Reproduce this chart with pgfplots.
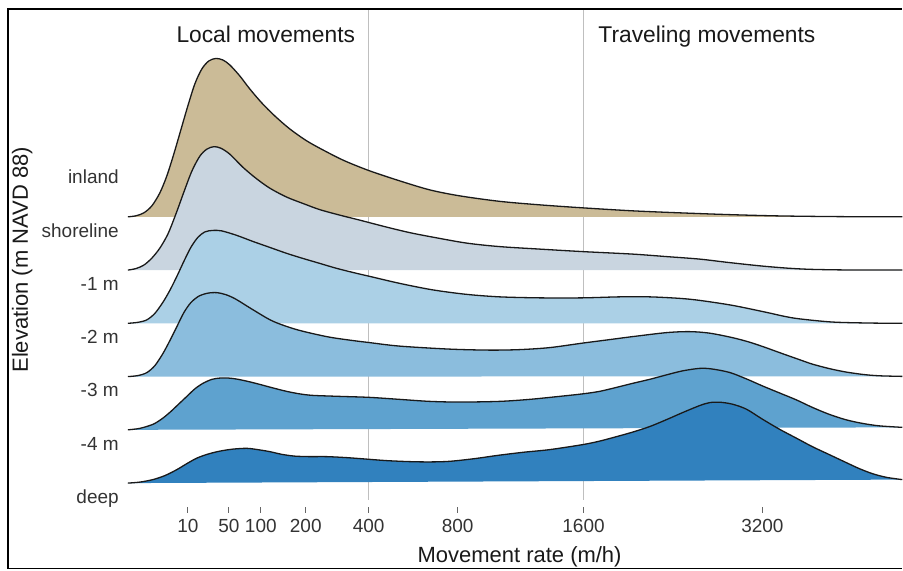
\documentclass[border=0pt]{standalone}
\usepackage{fontspec}
\setmainfont{Liberation Sans}
\usepackage{pgfplots}
\usepackage{pgfplotstable}
\pgfplotsset{compat=1.18}

\definecolor{cInland}{RGB}{203,187,151}
\definecolor{cShore}{RGB}{201,213,224}
\definecolor{cOne}{RGB}{171,208,230}
\definecolor{cTwo}{RGB}{139,189,221}
\definecolor{cThree}{RGB}{94,162,207}
\definecolor{cDeep}{RGB}{49,129,190}

% x = position on the movement-rate axis (drawn scale), h = density height
\pgfplotstableread{
x h
128 0
136 1
144 4
152 11
160 24
167 41
174 63
181 87
188 111
195 133
202 148
209 156
216 158.5
223 157
230 152
240 141
250 128
262 114
275 101
290 88
307 76
325 66
345 56
370 46
400 36
430 27
460 21
500 15.5
540 12
583 9
633 6
680 4
730 2.2
780 0.9
840 0.2
903 0
}\inland

\pgfplotstableread{
x h
128 0
136 1.5
144 5
152 12
160 22
168 36
176 56
184 78
192 99
200 114
207 121
214 123.5
221 122
230 116
243 103
256 92
270 82
287 73
305 66
320 60.5
340 55
360 50
387 43
410 37.5
433 33
467 27
500 23.5
540 21
583 18.5
633 16
667 13.5
700 11
730 7.5
763 4
790 1.8
813 0.7
850 0.1
903 0
}\shore

\pgfplotstableread{
x h
128 0
138 1
147 3.5
155 10
163 21
170 33
177 47
184 62
191 76
198 86
205 91.5
213 93
222 92.5
237 88
253 82
270 76
287 70
303 65
320 60
337 55
355 50.5
370 47
400 40
433 33.5
467 29
500 26.5
540 25.5
583 25.5
620 26.5
650 26.5
680 25
700 23
733 18
767 11
785 7
800 4.5
833 1.3
870 0.3
903 0
}\one

\pgfplotstableread{
x h
128 0
138 1
147 4
155 11
163 23
170 36
177 50
184 64
191 74
199 80.5
208 83.5
217 84
226 82
236 77.5
253 67
273 55.5
297 47
327 40
350 36.5
370 34
400 30.5
450 27.5
490 26.5
520 27
550 29
583 33.5
610 37
633 40
667 44
690 45
710 43.5
733 39
750 34.5
765 29.5
783 23
800 17
813 12.5
830 8
847 4.5
865 2
880 0.8
903 0.2
}\two

\pgfplotstableread{
x h
128 0
140 1.5
153 5.5
162 11
170 17.5
178 25
187 33.5
195 41
203 46.5
212 50.5
220 51.8
229 51.8
237 50.8
248 48.5
260 45.5
273 42
287 38.5
300 36
313 34.5
340 33.5
370 32.5
400 30.5
430 28.5
460 27.8
500 28.5
530 30.5
560 33.5
583 36
600 38.5
617 42.5
633 46.5
650 50.5
667 55
683 59
700 61.5
712 61
730 57.5
747 51
763 44
780 37
797 30
813 22.5
830 15.5
847 10
863 6.5
880 4
903 2.5
}\three

\pgfplotstableread{
x h
128 0
140 1
153 3.5
165 7.5
177 13.5
187 19.5
197 25
208 29
220 32
233 34
247 34.8
258 33.5
270 31.5
282 28.8
295 27
310 26.5
327 26.5
347 25.5
367 24
387 22.5
410 21.5
430 21.2
450 21.8
475 24.5
500 28
525 31
550 33.5
583 38.5
600 42
617 46.5
633 51
650 56.5
667 63.5
683 70.5
700 77.5
710 80.5
720 81
733 79
747 74
763 64
780 54
797 45
813 36.5
830 28.5
847 20.5
860 14.5
873 9.5
887 5.8
903 3.5
}\deep

\begin{document}
\begin{tikzpicture}
\begin{axis}[
  scale only axis,
  width=778pt, height=497pt,
  xmin=125, xmax=903, ymin=64, ymax=561,
  axis line style={draw=none},
  clip=false,
  xtick={188,229,261,306,369,458,584,763},
  xticklabels={10,50,100,200,400,800,1600,3200},
  ytick={387,333.7,280.4,227.1,173.8,120.5,67.2},
  yticklabels={inland,shoreline,-1 m,-2 m,-3 m,-4 m,deep},
  tick pos=left,
  tick align=outside,
  major tick length=6pt,
  xtick style={draw=black!60, line width=1.1pt},
  ytick style={draw=none},
  xticklabel style={font=\fontsize{19}{22}\selectfont, text=black!80, anchor=base, inner sep=0pt, yshift=-20pt},
  yticklabel style={font=\fontsize{19}{22}\selectfont, text=black!80, anchor=base east, inner sep=0pt},
  xlabel={Movement rate (m/h)},
  ylabel={Elevation (m NAVD 88)},
  every axis x label/.style={at={(axis description cs:0.5077,-0.1127)}, anchor=base, font=\fontsize{22}{26}\selectfont, text=black!90},
  every axis y label/.style={at={(axis description cs:-0.1247,0.497)}, rotate=90, anchor=base, font=\fontsize{22}{26}\selectfont, text=black!90},
]
% frame
\path (axis cs:0,0) rectangle (axis cs:903,571);
\draw[line width=1.5pt] (axis cs:8,2) -- (axis cs:8,562) -- (axis cs:903,562);
\draw[line width=1.5pt] (axis cs:8,2) -- (axis cs:903,2);

% reference lines
\addplot[black!25, line width=1.5pt] coordinates {(369,71) (369,561)};
\addplot[black!25, line width=1.5pt] coordinates {(584,71) (584,561)};

% ridges, top to bottom
\addplot[fill=cInland, draw=none, smooth] table[x=x, y expr=\thisrow{h}+354] {\inland};
\addplot[black!90, line width=1.3pt, smooth] table[x=x, y expr=\thisrow{h}+354] {\inland};

\addplot[fill=cShore, draw=none, smooth] table[x=x, y expr=\thisrow{h}+300.7] {\shore};
\addplot[black!90, line width=1.3pt, smooth] table[x=x, y expr=\thisrow{h}+300.7] {\shore};

\addplot[fill=cOne, draw=none, smooth] table[x=x, y expr=\thisrow{h}+247.4] {\one};
\addplot[black!90, line width=1.3pt, smooth] table[x=x, y expr=\thisrow{h}+247.4] {\one};

\addplot[fill=cTwo, draw=none, smooth] table[x=x, y expr=\thisrow{h}+194.1] {\two};
\addplot[black!90, line width=1.3pt, smooth] table[x=x, y expr=\thisrow{h}+194.1] {\two};

\addplot[fill=cThree, draw=none, smooth] table[x=x, y expr=\thisrow{h}+140.8] {\three};
\addplot[black!90, line width=1.3pt, smooth] table[x=x, y expr=\thisrow{h}+140.8] {\three};

\addplot[fill=cDeep, draw=none, smooth] table[x=x, y expr=\thisrow{h}+87.5] {\deep};
\addplot[black!90, line width=1.3pt, smooth] table[x=x, y expr=\thisrow{h}+87.5] {\deep};

% panel annotations
\node[anchor=base, font=\fontsize{22.8}{26}\selectfont, text=black!90] at (axis cs:266,528) {Local movements};
\node[anchor=base, font=\fontsize{22.8}{26}\selectfont, text=black!90] at (axis cs:707.5,528) {Traveling movements};
\end{axis}
\end{tikzpicture}
\end{document}
